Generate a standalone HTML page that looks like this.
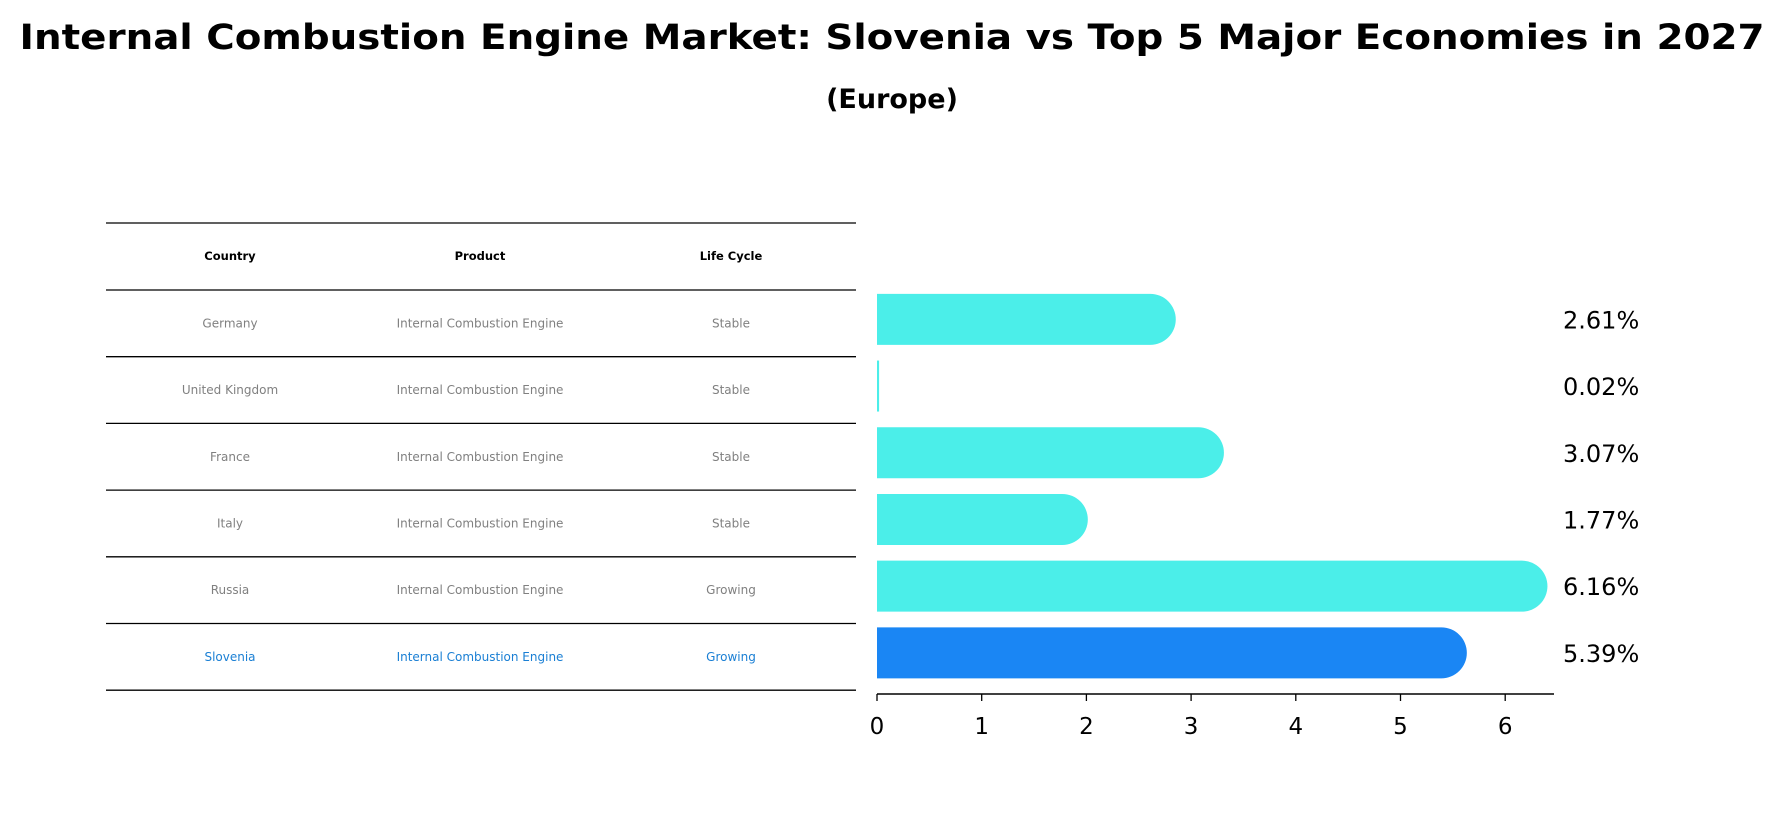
<!DOCTYPE html>
<html><head><meta charset="utf-8"><style>
html,body{margin:0;padding:0;background:#fff;}
svg{display:block;font-family:"DejaVu Sans","Liberation Sans",sans-serif;}
</style></head><body>
<svg id="chart" width="1785" height="823" viewBox="0 0 1785 823">
<text x="892" y="49" text-anchor="middle" font-size="35" font-weight="bold" textLength="1745" lengthAdjust="spacingAndGlyphs">Internal Combustion Engine Market: Slovenia vs Top 5 Major Economies in 2027</text>
<text x="892" y="108" text-anchor="middle" font-size="27" font-weight="bold">(Europe)</text>
<g id="table"></g>
<g id="bars"></g>
<g id="xaxis"></g>
</svg>
<script>
const countries = ["Germany","United Kingdom","France","Italy","Russia","Slovenia"];
const products = ["Internal Combustion Engine","Internal Combustion Engine","Internal Combustion Engine","Internal Combustion Engine","Internal Combustion Engine","Internal Combustion Engine"];
const lifeCycles = ["Stable","Stable","Stable","Stable","Growing","Growing"];
const values = [2.61,0.02,3.07,1.77,6.16,5.39];
const valueLabels = ["2.61%","0.02%","3.07%","1.77%","6.16%","5.39%"];
const xTicks = [0,1,2,3,4,5,6];
const headers = ["Country","Product","Life Cycle"];

const NS="http://www.w3.org/2000/svg";
function mk(tag, attrs, parent){const e=document.createElementNS(NS,tag);for(const k in attrs)e.setAttribute(k,attrs[k]);parent.appendChild(e);return e;}
const x0=877, unit=104.7;
function xs(v){return x0+v*unit;}
const rowTop=290, rowH=66.7;
function rowCenter(i){return rowTop+rowH*(i+0.5);}

// table
const tbl=document.getElementById('table');
const colX=[230,480,731];
const lineYs=[223];
for(let i=0;i<=countries.length;i++) lineYs.push(rowTop+rowH*i);
lineYs.forEach((y,i)=>{
  const l=mk('line',{x1:106,x2:856,y1:y,y2:y,stroke:'#000','stroke-width':1.3},tbl);
  
  
});
headers.forEach((h,j)=>{
  const t=mk('text',{x:colX[j],y:260,'text-anchor':'middle','font-size':11.5,'font-weight':'bold'},tbl);
  t.textContent=h;
  
  
});
countries.forEach((c,i)=>{
  const col = i===countries.length-1 ? '#1a7fd4' : '#808080';
  [c,products[i],lifeCycles[i]].forEach((s,j)=>{
    const t=mk('text',{x:colX[j],y:rowCenter(i)+4,'text-anchor':'middle','font-size':12,fill:col},tbl);
    t.textContent=s;
    
    
  });
});

// bars
const bars=document.getElementById('bars');
const bh=51, r=25.5;
values.forEach((v,i)=>{
  const cy=rowCenter(i)-4;
  const top=cy-bh/2;
  const xe=xs(v);
  const col = i===values.length-1 ? '#1a86f4' : '#4beee9';
  let d;
  if (v*unit < 3) d=`M${x0},${top}H${xe}V${top+bh}H${x0}Z`;
  else d=`M${x0},${top}H${xe}A${r},${r} 0 0 1 ${xe},${top+bh}H${x0}Z`;
  const p=mk('path',{d:d,fill:col},bars);
  
  
  const t=mk('text',{x:1563,y:cy+9,'font-size':24,fill:'#000'},bars);
  t.textContent=valueLabels[i];
  
  
});

// x axis
const xa=document.getElementById('xaxis');
const ay=694;
const al=mk('line',{x1:x0,x2:1554,y1:ay,y2:ay,stroke:'#000','stroke-width':1.6},xa);


xTicks.forEach(v=>{
  const tk=mk('line',{x1:xs(v),x2:xs(v),y1:ay,y2:ay+7,stroke:'#000','stroke-width':1.3},xa);
  
  
  const t=mk('text',{x:xs(v),y:734,'text-anchor':'middle','font-size':23},xa);
  t.textContent=String(v);
  
  
});
</script>
</body></html>
